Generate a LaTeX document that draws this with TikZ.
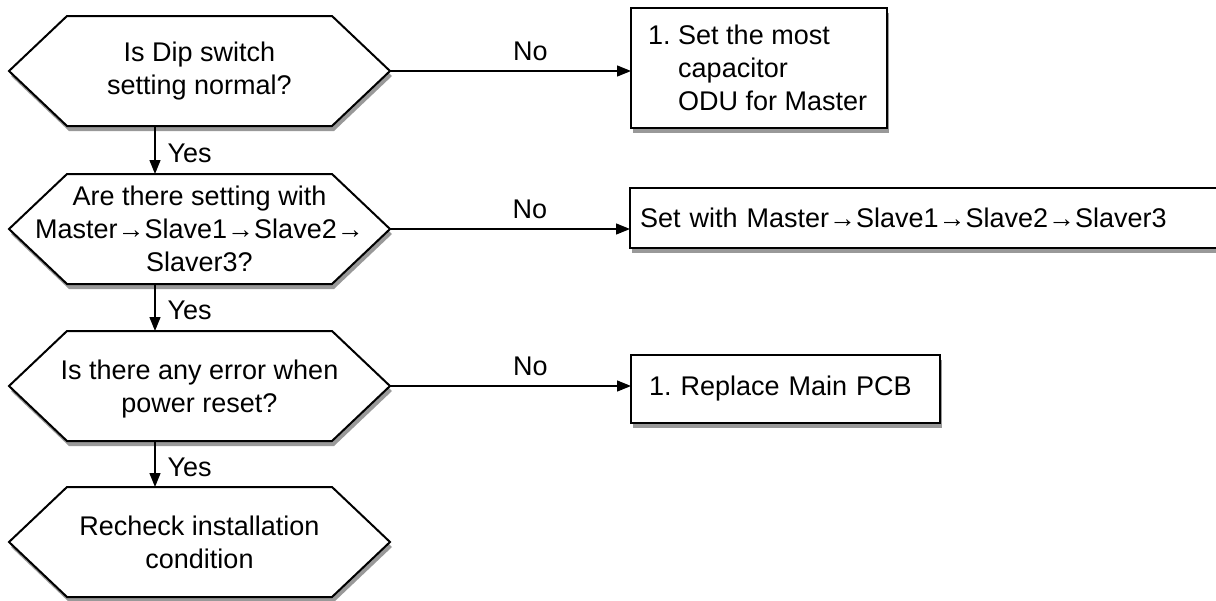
\documentclass[tikz,border=0pt]{standalone}
\usepackage{fontspec}
\setmainfont{Liberation Sans}
\usetikzlibrary{arrows.meta,shadows}
\begin{document}
\begin{tikzpicture}[x=1pt,y=-1pt,
  shad/.style={drop shadow={shadow xshift=2pt,shadow yshift=-5pt,fill=black!40,opacity=1}},
  hexcore/.style={rectangle,inner sep=0pt,outer sep=0pt,minimum width=265pt,minimum height=110pt},
  hexa/.style={draw,fill=white,line width=2pt,line join=miter,shad},
  qtext/.style={font=\fontsize{27}{33}\selectfont,align=center,inner sep=0pt},
  box/.style={draw,fill=white,line width=2pt,shad,font=\fontsize{27}{33}\selectfont,align=left,inner ysep=0pt,outer sep=0pt},
  arr/.style={line width=1.3pt,-{Triangle[length=14pt,width=11pt]}},
  lbl/.style={font=\fontsize{27}{33}\selectfont,inner sep=0pt}
]
\useasboundingbox (0,0) rectangle (1216,600);

% decision shapes
\node[hexcore] (q1) at (199.5,71) {};
\node[hexcore] (q2) at (199.5,229) {};
\node[hexcore] (q3) at (199.5,386) {};
\node[hexcore] (q4) at (199.5,542) {};
\foreach \n in {q1,q2,q3,q4}{
  \path[hexa] (\n.north west) -- (\n.north east) -- ([xshift=58pt]\n.east) -- (\n.south east) -- (\n.south west) -- ([xshift=-58pt]\n.west) -- cycle;
  \coordinate (\n tip) at ([xshift=58pt]\n.east);
}
\node[qtext] (q1t) at (q1) {Is Dip switch\\setting normal?};
\node[qtext] (q2t) at (q2) {Are there setting with\\Master→Slave1→Slave2→\\Slaver3?};
\node[qtext,yshift=-3.5pt] (q3t) at (q3) {Is there any error when\\power reset?};
\node[qtext] (q4t) at (q4) {Recheck installation\\condition};

% action boxes
\node[box,minimum width=256pt,minimum height=120pt] (b1) at (759,68) {};
\node[lbl,anchor=west] (b1t) at ([xshift=17pt]b1.west)
  {1.\ \vtop{\hbox{Set the most}\hbox{capacitor}\hbox{ODU for Master}}};
\node[box,text width=582pt,inner xsep=10pt,minimum height=60pt,anchor=west] (b2) at (630,218)
  {Set with Master→Slave1→Slave2→Slaver3};
\node[box,text width=273pt,inner xsep=18pt,minimum height=68pt] (b3) at (785.5,389)
  {1.\ Replace Main PCB};

% No connectors
\draw[arr] (q1tip) -- (q1tip -| b1.west) node[lbl,pos=0.583,above=10pt] (n1) {No};
\draw[arr] (q2tip) -- (q2tip -| b2.west) node[lbl,pos=0.583,above=10pt] (n2) {No};
\draw[arr] (q3tip) -- (q3tip -| b3.west) node[lbl,pos=0.583,above=10pt] (n3) {No};

% Yes connectors
\draw[arr] ([xshift=88pt]q1.south west) -- ([xshift=88pt]q2.north west) node[lbl,midway,right=12pt,yshift=-3pt] (y1) {Yes};
\draw[arr] ([xshift=88pt]q2.south west) -- ([xshift=88pt]q3.north west) node[lbl,midway,right=12pt,yshift=-3pt] (y2) {Yes};
\draw[arr] ([xshift=88pt]q3.south west) -- ([xshift=88pt]q4.north west) node[lbl,midway,right=12pt,yshift=-3pt] (y3) {Yes};
\end{tikzpicture}
\end{document}
